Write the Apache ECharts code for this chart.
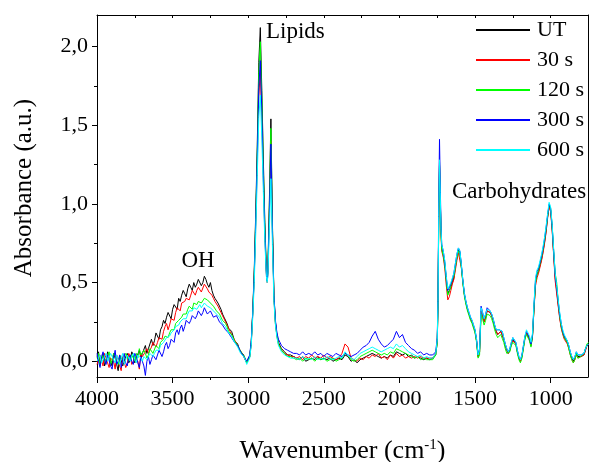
<!DOCTYPE html>
<html>
	<head>
		<meta charset="utf-8" />
		<title>FTIR spectra</title>
		<script src="https://cdn.jsdelivr.net/npm/echarts@6/dist/echarts.min.js" type="text/javascript" charset="utf-8"></script>
		<style type="text/css">
			* {
				margin: 0;
				padding: 0;
			}

			body {
				background-color: #FFFFFF;
			}

			#content {
				width: 589px;
				height: 462px;
			}
		</style>
	</head>
	<body>

		<div id="content"></div>

		<script type="text/javascript">
			// wavenumber grid (cm-1), shared by all spectra
			var wavenumber = [
				4000, 3990, 3980, 3970, 3960, 3950, 3940, 3930, 3920, 3910,
				3900, 3890, 3880, 3870, 3860, 3850, 3840, 3830, 3820, 3810,
				3800, 3790, 3780, 3770, 3760, 3750, 3740, 3730, 3720, 3710,
				3700, 3690, 3680, 3670, 3660, 3650, 3640, 3630, 3620, 3610,
				3600, 3590, 3580, 3570, 3560, 3550, 3540, 3530, 3520, 3510,
				3500, 3490, 3480, 3470, 3460, 3450, 3440, 3430, 3420, 3410,
				3400, 3390, 3380, 3370, 3360, 3350, 3340, 3330, 3320, 3310,
				3300, 3290, 3280, 3270, 3260, 3250, 3240, 3230, 3220, 3210,
				3200, 3190, 3180, 3170, 3160, 3150, 3140, 3130, 3120, 3110,
				3100, 3090, 3080, 3070, 3060, 3050, 3040, 3030, 3020,
				3010, 3000, 2990, 2980, 2970, 2960, 2950, 2940, 2930, 2920,
				2910, 2900, 2890, 2880, 2875, 2870, 2860, 2850, 2840, 2830,
				2820, 2810, 2800, 2780, 2760, 2740, 2720, 2700,
				2680, 2660, 2640, 2620, 2600, 2580, 2560, 2540, 2520, 2500,
				2480, 2460, 2440, 2420, 2400, 2380, 2360, 2340, 2320, 2300,
				2280, 2260, 2240, 2220, 2200, 2180, 2160, 2140, 2120, 2100,
				2080, 2060, 2040, 2020, 2000, 1980, 1960, 1940, 1920, 1900,
				1880, 1860, 1840, 1820, 1800,
				1790, 1780, 1770, 1760, 1750, 1745, 1740, 1735, 1730, 1725,
				1720, 1710, 1700, 1690, 1680, 1670, 1660, 1650, 1640, 1630,
				1620, 1610, 1600, 1590, 1580, 1570, 1560, 1550, 1540, 1530,
				1520, 1510, 1500, 1490, 1480, 1470, 1460, 1450, 1440, 1430,
				1420, 1410, 1400, 1390, 1380, 1370, 1360, 1350, 1340, 1330,
				1320, 1310, 1300, 1290, 1280, 1270, 1260, 1250, 1240, 1230,
				1220, 1210, 1200, 1190, 1180, 1170, 1160, 1150, 1140, 1130,
				1120, 1110, 1100, 1090, 1080, 1070, 1060, 1050, 1040, 1030,
				1020, 1010, 1000, 990, 980, 970, 960, 950, 940, 930,
				920, 910, 900, 890, 880, 870, 860, 850, 840, 830,
				820, 810, 800, 790, 780, 770, 760, 750
			];

			var absUT = [
				0.03, 0.06, -0.02, 0.01, 0.05, -0.03, 0.00, 0.06, 0.04, 0.00,
				-0.03, 0.05, 0.02, -0.02, -0.06, 0.04, 0.03, -0.03, 0.00, 0.03,
				0.05, -0.01, 0.01, 0.06, 0.04, -0.01, 0.02, 0.03, 0.07, 0.02,
				0.05, 0.06, 0.10, 0.05, 0.08, 0.09, 0.14, 0.10, 0.13, 0.18,
				0.17, 0.14, 0.20, 0.22, 0.26, 0.24, 0.28, 0.31, 0.30, 0.27,
				0.33, 0.36, 0.35, 0.33, 0.40, 0.38, 0.42, 0.45, 0.43, 0.41,
				0.46, 0.49, 0.47, 0.45, 0.50, 0.47, 0.49, 0.52, 0.53, 0.48,
				0.50, 0.54, 0.52, 0.49, 0.47, 0.50, 0.45, 0.42, 0.40, 0.39,
				0.37, 0.36, 0.33, 0.30, 0.28, 0.27, 0.24, 0.21, 0.20, 0.19,
				0.16, 0.13, 0.12, 0.11, 0.08, 0.06, 0.05, 0.04, 0.01,
				-0.01, 0.00, 0.03, 0.12, 0.32, 0.58, 0.95, 1.38, 1.90, 2.12,
				1.72, 1.28, 0.88, 0.58, 0.52, 0.58, 1.02, 1.54, 0.88, 0.42,
				0.25, 0.17, 0.12, 0.08, 0.06, 0.04, 0.04, 0.03,
				0.02, 0.01, 0.03, 0.00, 0.01, 0.02, 0.01, 0.03, 0.01, 0.02,
				0.01, 0.02, 0.00, 0.01, 0.02, 0.01, 0.04, 0.03, 0.00, 0.01,
				-0.01, 0.01, 0.02, 0.03, 0.04, 0.05, 0.04, 0.03, 0.02, 0.03,
				0.02, 0.04, 0.03, 0.06, 0.05, 0.04, 0.05, 0.03, 0.04, 0.02,
				0.03, 0.02, 0.01, 0.02, 0.01,
				0.01, 0.02, 0.02, 0.04, 0.12, 0.35, 0.90, 1.27, 1.05, 0.82,
				0.72, 0.68, 0.62, 0.52, 0.43, 0.44, 0.47, 0.50, 0.53, 0.60,
				0.66, 0.71, 0.69, 0.60, 0.50, 0.42, 0.37, 0.33, 0.30, 0.27,
				0.25, 0.22, 0.19, 0.13, 0.03, 0.06, 0.32, 0.29, 0.25, 0.28,
				0.32, 0.33, 0.31, 0.29, 0.26, 0.22, 0.19, 0.17, 0.18, 0.19,
				0.18, 0.14, 0.10, 0.07, 0.05, 0.07, 0.11, 0.14, 0.14, 0.11,
				0.06, 0.02, 0.00, 0.03, 0.09, 0.15, 0.18, 0.18, 0.14, 0.10,
				0.16, 0.34, 0.50, 0.55, 0.57, 0.61, 0.65, 0.70, 0.76, 0.83,
				0.92, 0.99, 0.96, 0.84, 0.68, 0.53, 0.45, 0.36, 0.28, 0.22,
				0.18, 0.15, 0.14, 0.12, 0.09, 0.05, 0.02, 0.00, 0.02, 0.05,
				0.03, 0.02, 0.03, 0.03, 0.04, 0.07, 0.10, 0.10
			];

			var abs30 = [
				-0.02, 0.01, 0.04, 0.03, -0.03, 0.05, 0.02, -0.01, -0.04, 0.02,
				0.03, 0.00, -0.05, 0.04, 0.01, -0.03, -0.06, 0.03, 0.02, -0.04,
				-0.02, 0.05, 0.03, -0.02, 0.00, 0.03, 0.04, 0.00, -0.05, 0.05,
				0.03, 0.02, 0.06, 0.08, 0.05, 0.04, 0.09, 0.12, 0.11, 0.09,
				0.12, 0.15, 0.16, 0.14, 0.19, 0.22, 0.24, 0.20, 0.23, 0.27,
				0.28, 0.26, 0.31, 0.34, 0.33, 0.32, 0.37, 0.36, 0.38, 0.40,
				0.41, 0.39, 0.42, 0.45, 0.44, 0.42, 0.45, 0.47, 0.47, 0.44,
				0.45, 0.49, 0.48, 0.46, 0.44, 0.45, 0.42, 0.40, 0.38, 0.37,
				0.35, 0.34, 0.31, 0.29, 0.27, 0.26, 0.23, 0.21, 0.19, 0.18,
				0.15, 0.14, 0.12, 0.10, 0.08, 0.07, 0.05, 0.03, 0.01,
				-0.01, 0.00, 0.03, 0.11, 0.30, 0.54, 0.88, 1.26, 1.68, 1.85,
				1.52, 1.15, 0.80, 0.55, 0.50, 0.55, 0.95, 1.40, 0.82, 0.40,
				0.24, 0.16, 0.11, 0.07, 0.05, 0.04, 0.03, 0.03,
				0.02, 0.03, 0.01, 0.03, 0.02, 0.04, 0.02, 0.03, 0.02, 0.04,
				0.02, 0.03, 0.02, 0.01, 0.02, 0.05, 0.11, 0.09, 0.02, 0.01,
				0.00, 0.02, 0.01, 0.03, 0.02, 0.04, 0.03, 0.05, 0.02, 0.03,
				0.01, 0.04, 0.02, 0.05, 0.03, 0.04, 0.02, 0.03, 0.02, 0.03,
				0.02, 0.03, 0.02, 0.02, 0.02,
				0.02, 0.02, 0.03, 0.05, 0.13, 0.36, 0.90, 1.25, 1.03, 0.80,
				0.70, 0.66, 0.59, 0.48, 0.39, 0.41, 0.45, 0.49, 0.52, 0.58,
				0.64, 0.69, 0.68, 0.59, 0.50, 0.42, 0.37, 0.33, 0.30, 0.27,
				0.25, 0.22, 0.19, 0.13, 0.03, 0.06, 0.32, 0.29, 0.25, 0.28,
				0.32, 0.33, 0.31, 0.29, 0.26, 0.22, 0.19, 0.17, 0.18, 0.19,
				0.18, 0.14, 0.10, 0.07, 0.05, 0.07, 0.11, 0.13, 0.14, 0.11,
				0.06, 0.02, 0.00, 0.03, 0.09, 0.15, 0.18, 0.18, 0.14, 0.10,
				0.16, 0.33, 0.48, 0.53, 0.56, 0.60, 0.64, 0.69, 0.75, 0.82,
				0.91, 0.98, 0.95, 0.83, 0.67, 0.51, 0.43, 0.35, 0.27, 0.21,
				0.17, 0.14, 0.13, 0.11, 0.08, 0.04, 0.01, -0.01, 0.01, 0.04,
				0.02, 0.02, 0.03, 0.03, 0.04, 0.07, 0.10, 0.11
			];

			var abs120 = [
				0.02, 0.05, -0.03, 0.01, 0.04, 0.00, -0.01, 0.03, 0.06, -0.02,
				0.01, 0.05, 0.03, 0.00, -0.02, 0.03, 0.04, 0.01, 0.00, 0.05,
				0.03, 0.00, -0.01, 0.04, 0.02, 0.00, 0.05, 0.02, 0.08, 0.04,
				0.03, 0.07, 0.05, 0.02, 0.04, 0.08, 0.07, 0.05, 0.06, 0.10,
				0.09, 0.08, 0.12, 0.11, 0.14, 0.16, 0.17, 0.15, 0.18, 0.20,
				0.21, 0.20, 0.24, 0.23, 0.26, 0.25, 0.28, 0.30, 0.31, 0.30,
				0.33, 0.35, 0.34, 0.33, 0.37, 0.38, 0.36, 0.38, 0.39, 0.37,
				0.38, 0.40, 0.41, 0.39, 0.38, 0.37, 0.36, 0.35, 0.34, 0.32,
				0.31, 0.30, 0.29, 0.26, 0.25, 0.24, 0.22, 0.19, 0.18, 0.17,
				0.15, 0.13, 0.12, 0.10, 0.08, 0.07, 0.05, 0.04, 0.02,
				-0.01, 0.00, 0.03, 0.12, 0.31, 0.56, 0.92, 1.33, 1.83, 2.03,
				1.66, 1.23, 0.85, 0.57, 0.51, 0.57, 0.99, 1.48, 0.86, 0.41,
				0.24, 0.16, 0.11, 0.07, 0.05, 0.03, 0.03, 0.02,
				0.01, 0.02, 0.00, 0.02, 0.01, 0.02, 0.00, 0.02, 0.01, 0.02,
				0.00, 0.01, 0.02, 0.00, 0.01, 0.02, 0.05, 0.04, 0.01, 0.00,
				0.01, 0.03, 0.04, 0.05, 0.06, 0.07, 0.06, 0.05, 0.04, 0.05,
				0.04, 0.06, 0.05, 0.08, 0.07, 0.06, 0.05, 0.04, 0.03, 0.02,
				0.03, 0.01, 0.02, 0.01, 0.01,
				0.01, 0.01, 0.02, 0.04, 0.12, 0.35, 0.89, 1.25, 1.04, 0.81,
				0.71, 0.67, 0.61, 0.51, 0.42, 0.44, 0.48, 0.52, 0.54, 0.60,
				0.66, 0.70, 0.68, 0.59, 0.49, 0.41, 0.36, 0.32, 0.29, 0.26,
				0.24, 0.21, 0.18, 0.12, 0.02, 0.04, 0.30, 0.27, 0.23, 0.26,
				0.30, 0.31, 0.29, 0.27, 0.24, 0.20, 0.17, 0.15, 0.16, 0.17,
				0.16, 0.12, 0.08, 0.05, 0.04, 0.06, 0.10, 0.12, 0.13, 0.10,
				0.05, 0.01, -0.01, 0.02, 0.08, 0.14, 0.17, 0.17, 0.13, 0.09,
				0.16, 0.34, 0.50, 0.55, 0.58, 0.62, 0.66, 0.71, 0.77, 0.84,
				0.92, 0.99, 0.97, 0.86, 0.70, 0.56, 0.50, 0.38, 0.29, 0.22,
				0.18, 0.15, 0.14, 0.12, 0.08, 0.04, 0.01, -0.01, 0.01, 0.05,
				0.02, 0.02, 0.03, 0.03, 0.05, 0.08, 0.11, 0.12
			];

			var abs300 = [
				0.05, 0.00, -0.04, 0.03, 0.06, 0.01, -0.02, 0.04, 0.03, -0.03,
				-0.05, 0.02, 0.07, -0.02, 0.00, 0.04, -0.04, 0.01, 0.05, -0.01,
				-0.03, 0.02, 0.04, 0.00, -0.02, 0.05, 0.03, -0.01, -0.04, 0.03,
				0.02, -0.03, -0.09, 0.00, 0.03, -0.02, 0.01, 0.04, 0.05, 0.01,
				0.04, 0.07, 0.08, 0.03, 0.06, 0.10, 0.12, 0.08, 0.10, 0.14,
				0.15, 0.12, 0.18, 0.20, 0.17, 0.21, 0.23, 0.19, 0.22, 0.26,
				0.27, 0.24, 0.26, 0.29, 0.30, 0.27, 0.29, 0.32, 0.33, 0.29,
				0.31, 0.34, 0.33, 0.30, 0.30, 0.32, 0.31, 0.28, 0.28, 0.29,
				0.27, 0.25, 0.24, 0.23, 0.22, 0.20, 0.19, 0.18, 0.17, 0.15,
				0.14, 0.12, 0.11, 0.10, 0.08, 0.06, 0.05, 0.03, 0.02,
				0.00, 0.01, 0.04, 0.13, 0.31, 0.55, 0.90, 1.30, 1.74, 1.91,
				1.58, 1.18, 0.82, 0.56, 0.51, 0.56, 0.94, 1.38, 0.83, 0.42,
				0.26, 0.18, 0.14, 0.10, 0.08, 0.07, 0.06, 0.05,
				0.05, 0.04, 0.06, 0.04, 0.05, 0.04, 0.06, 0.04, 0.05, 0.03,
				0.05, 0.04, 0.03, 0.05, 0.04, 0.03, 0.05, 0.04, 0.03, 0.04,
				0.05, 0.07, 0.09, 0.10, 0.12, 0.16, 0.19, 0.14, 0.11, 0.09,
				0.10, 0.12, 0.14, 0.19, 0.15, 0.17, 0.12, 0.10, 0.08, 0.07,
				0.05, 0.06, 0.04, 0.05, 0.04,
				0.04, 0.04, 0.05, 0.06, 0.15, 0.40, 1.00, 1.41, 1.12, 0.86,
				0.74, 0.70, 0.63, 0.53, 0.45, 0.46, 0.49, 0.52, 0.56, 0.62,
				0.68, 0.72, 0.70, 0.61, 0.51, 0.43, 0.38, 0.34, 0.31, 0.28,
				0.26, 0.23, 0.20, 0.14, 0.04, 0.08, 0.35, 0.31, 0.27, 0.30,
				0.34, 0.34, 0.32, 0.30, 0.27, 0.23, 0.20, 0.19, 0.20, 0.21,
				0.19, 0.15, 0.11, 0.08, 0.06, 0.08, 0.12, 0.15, 0.15, 0.12,
				0.07, 0.03, 0.01, 0.04, 0.10, 0.16, 0.19, 0.19, 0.15, 0.11,
				0.17, 0.36, 0.52, 0.57, 0.59, 0.63, 0.67, 0.72, 0.78, 0.85,
				0.93, 1.00, 0.97, 0.86, 0.70, 0.55, 0.47, 0.38, 0.30, 0.24,
				0.19, 0.16, 0.15, 0.13, 0.10, 0.06, 0.03, 0.01, 0.03, 0.06,
				0.04, 0.04, 0.04, 0.04, 0.05, 0.08, 0.10, 0.11
			];

			var abs600 = [
				0.00, 0.02, 0.04, -0.01, -0.02, 0.03, 0.05, 0.00, 0.01, 0.05,
				0.04, 0.01, -0.01, 0.04, 0.03, -0.02, 0.02, 0.05, -0.02, 0.01,
				0.04, 0.02, 0.00, 0.03, 0.05, 0.01, -0.01, 0.04, 0.03, 0.02,
				0.00, 0.03, 0.04, 0.01, 0.02, 0.05, 0.06, 0.03, 0.05, 0.07,
				0.08, 0.07, 0.10, 0.11, 0.12, 0.13, 0.15, 0.14, 0.16, 0.18,
				0.19, 0.20, 0.22, 0.21, 0.23, 0.25, 0.26, 0.27, 0.28, 0.27,
				0.30, 0.32, 0.31, 0.32, 0.34, 0.35, 0.33, 0.34, 0.36, 0.34,
				0.35, 0.37, 0.37, 0.35, 0.34, 0.34, 0.33, 0.32, 0.31, 0.30,
				0.29, 0.28, 0.26, 0.24, 0.23, 0.22, 0.20, 0.18, 0.17, 0.16,
				0.14, 0.12, 0.11, 0.09, 0.07, 0.05, 0.04, 0.03, 0.01,
				-0.02, -0.01, 0.02, 0.10, 0.28, 0.50, 0.82, 1.18, 1.55, 1.69,
				1.42, 1.08, 0.76, 0.54, 0.50, 0.54, 0.84, 1.16, 0.74, 0.38,
				0.23, 0.15, 0.10, 0.06, 0.04, 0.03, 0.02, 0.02,
				0.02, 0.01, 0.03, 0.01, 0.02, 0.01, 0.03, 0.01, 0.02, 0.01,
				0.03, 0.02, 0.01, 0.02, 0.03, 0.02, 0.06, 0.04, 0.02, 0.01,
				0.03, 0.05, 0.06, 0.07, 0.08, 0.09, 0.08, 0.07, 0.06, 0.07,
				0.08, 0.09, 0.08, 0.11, 0.09, 0.10, 0.08, 0.06, 0.05, 0.04,
				0.03, 0.04, 0.02, 0.03, 0.02,
				0.02, 0.02, 0.03, 0.05, 0.14, 0.38, 0.92, 1.28, 1.07, 0.84,
				0.74, 0.70, 0.64, 0.54, 0.46, 0.47, 0.50, 0.53, 0.56, 0.62,
				0.68, 0.72, 0.70, 0.61, 0.51, 0.43, 0.38, 0.34, 0.31, 0.28,
				0.26, 0.23, 0.20, 0.14, 0.04, 0.07, 0.34, 0.31, 0.27, 0.30,
				0.33, 0.34, 0.32, 0.30, 0.27, 0.23, 0.20, 0.19, 0.20, 0.21,
				0.19, 0.15, 0.11, 0.08, 0.06, 0.08, 0.12, 0.15, 0.16, 0.12,
				0.07, 0.03, 0.01, 0.04, 0.10, 0.16, 0.20, 0.20, 0.16, 0.12,
				0.18, 0.37, 0.53, 0.58, 0.60, 0.64, 0.68, 0.73, 0.79, 0.86,
				0.94, 1.01, 0.98, 0.87, 0.71, 0.56, 0.48, 0.39, 0.31, 0.24,
				0.20, 0.17, 0.15, 0.13, 0.10, 0.06, 0.03, 0.01, 0.03, 0.06,
				0.04, 0.04, 0.04, 0.04, 0.05, 0.08, 0.10, 0.11
			];

			var seriesNames = ['UT', '30 s', '120 s', '300 s', '600 s'];
			var seriesColors = ['#000000', '#FF0000', '#00FF00', '#0000FF', '#00FFFF'];
			var seriesValues = [absUT, abs30, abs120, abs300, abs600];

			// tick positions
			var xMajorTicks = [4000, 3500, 3000, 2500, 2000, 1500, 1000];
			var xMinorTicks = [3750, 3250, 2750, 2250, 1750, 1250];
			var xTopTicks = [4000, 3750, 3500, 3250, 3000, 2750, 2500, 2250, 2000, 1750, 1500, 1250, 1000];
			var yMajorTicks = [0, 0.5, 1.0, 1.5, 2.0];
			var yMinorTicks = [0.25, 0.75, 1.25, 1.75];

			var font = '"Liberation Serif", "DejaVu Serif", serif';
			var xMin = 753;
			var xMax = 4000;
			var yMin = -0.1;
			var yMax = 2.2;

			var chart = echarts.init(document.getElementById('content'));

			var series = [];
			for (var i = 0; i < seriesNames.length; i++) {
				var values = seriesValues[i];
				var pts = [];
				for (var j = 0; j < wavenumber.length; j++) {
					pts.push([wavenumber[j], values[j]]);
				}
				series.push({
					name: seriesNames[i],
					type: 'line',
					data: pts,
					symbol: 'none',
					showSymbol: false,
					color: seriesColors[i],
					lineStyle: {
						color: seriesColors[i],
						width: 1
					},
					z: 2 + i,
					xAxisIndex: 0,
					yAxisIndex: 0
				});
			}

			var option = {
				animation: false,
				backgroundColor: '#FFFFFF',
				grid: {
					left: 97,
					top: 15,
					right: 1,
					bottom: 85,
					outerBoundsMode: 'none',
					containLabel: false
				},
				legend: {
					orient: 'vertical',
					left: 476,
					top: 19,
					padding: 0,
					itemWidth: 54,
					itemHeight: 2,
					itemGap: 8,
					icon: 'rect',
					selectedMode: false,
					data: seriesNames,
					textStyle: {
						fontFamily: font,
						fontSize: 22,
						lineHeight: 22,
						color: '#000000',
						padding: [0, 0, 0, 2]
					}
				},
				xAxis: [{
					type: 'value',
					position: 'bottom',
					min: xMin,
					max: xMax,
					inverse: true,
					axisLine: {
						show: true,
						onZero: false,
						lineStyle: { color: '#000000', width: 1 }
					},
					axisTick: {
						show: true,
						inside: false,
						length: 6,
						customValues: xMajorTicks,
						lineStyle: { color: '#000000', width: 1 }
					},
					axisLabel: {
						show: true,
						customValues: xMajorTicks,
						margin: 11,
						color: '#000000',
						fontFamily: font,
						fontSize: 22,
						formatter: function(v) {
							return String(v);
						}
					},
					splitLine: { show: false },
					name: '{a|Wavenumber (cm}{s|-1}{a|)}',
					nameLocation: 'middle',
					nameGap: 61,
					nameMoveOverlap: false,
					nameTextStyle: {
						rich: {
							a: { fontFamily: font, fontSize: 26, color: '#000000' },
							s: { fontFamily: font, fontSize: 15, color: '#000000', verticalAlign: 'top', lineHeight: 15 }
						}
					}
				}, {
					type: 'value',
					position: 'bottom',
					min: xMin,
					max: xMax,
					inverse: true,
					axisLine: { show: false, onZero: false },
					axisTick: {
						show: true,
						inside: false,
						length: 3,
						customValues: xMinorTicks,
						lineStyle: { color: '#000000', width: 1 }
					},
					axisLabel: { show: false },
					splitLine: { show: false }
				}, {
					type: 'value',
					position: 'top',
					min: xMin,
					max: xMax,
					inverse: true,
					axisLine: {
						show: true,
						onZero: false,
						lineStyle: { color: '#000000', width: 1 }
					},
					axisTick: {
						show: true,
						inside: true,
						length: 3,
						customValues: xTopTicks,
						lineStyle: { color: '#000000', width: 1 }
					},
					axisLabel: { show: false },
					splitLine: { show: false }
				}],
				yAxis: [{
					type: 'value',
					position: 'left',
					min: yMin,
					max: yMax,
					axisLine: {
						show: true,
						onZero: false,
						lineStyle: { color: '#000000', width: 1 }
					},
					axisTick: {
						show: true,
						inside: false,
						length: 5,
						customValues: yMajorTicks,
						lineStyle: { color: '#000000', width: 1 }
					},
					axisLabel: {
						show: true,
						customValues: yMajorTicks,
						margin: 9,
						color: '#000000',
						fontFamily: font,
						fontSize: 22,
						formatter: function(v) {
							return v.toFixed(1).replace('.', ',');
						}
					},
					splitLine: { show: false },
					name: 'Absorbance (a.u.)',
					nameLocation: 'middle',
					nameGap: 60,
					nameRotate: 90,
					nameMoveOverlap: false,
					nameTextStyle: {
						fontFamily: font,
						fontSize: 25,
						color: '#000000',
						padding: [0, 0, 0, 16]
					}
				}, {
					type: 'value',
					position: 'left',
					min: yMin,
					max: yMax,
					axisLine: { show: false, onZero: false },
					axisTick: {
						show: true,
						inside: false,
						length: 3,
						customValues: yMinorTicks,
						lineStyle: { color: '#000000', width: 1 }
					},
					axisLabel: { show: false },
					splitLine: { show: false }
				}, {
					type: 'value',
					position: 'right',
					min: yMin,
					max: yMax,
					axisLine: {
						show: true,
						onZero: false,
						lineStyle: { color: '#000000', width: 1 }
					},
					axisTick: { show: false },
					axisLabel: { show: false },
					splitLine: { show: false }
				}],
				graphic: [{
					type: 'text',
					x: 266,
					y: 32,
					style: {
						text: 'Lipids',
						font: '23px ' + font,
						fill: '#000000',
						verticalAlign: 'middle'
					}
				}, {
					type: 'text',
					x: 198,
					y: 261,
					style: {
						text: 'OH',
						font: '23px ' + font,
						fill: '#000000',
						align: 'center',
						verticalAlign: 'middle'
					}
				}, {
					type: 'text',
					x: 452,
					y: 192,
					style: {
						text: 'Carbohydrates',
						font: '23px ' + font,
						fill: '#000000',
						verticalAlign: 'middle'
					}
				}],
				series: series
			};

			chart.setOption(option);
		</script>

	</body>
</html>
